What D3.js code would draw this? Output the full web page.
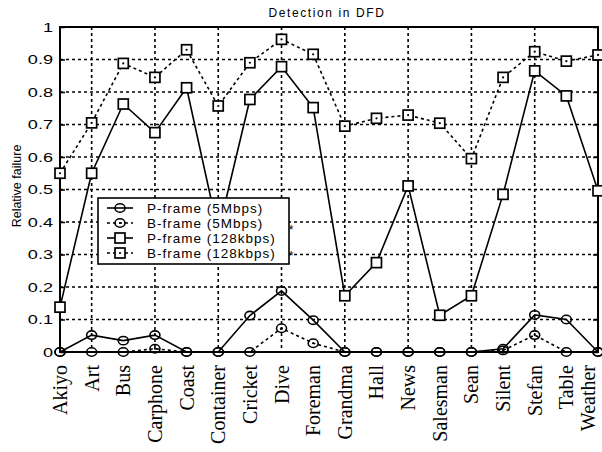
<!DOCTYPE html>
<html>
<head>
<meta charset="utf-8">
<script src="https://cdn.jsdelivr.net/npm/d3@7"></script>
<style>
  body { margin: 0; background: #fff; }
  svg { display: block; }
</style>
</head>
<body>
<div id="chart"></div>
<script>
// Detection in DFD - relative failure per test sequence

var sequences = ['Akiyo', 'Art', 'Bus', 'Carphone', 'Coast', 'Container', 'Cricket', 'Dive', 'Foreman',
  'Grandma', 'Hall', 'News', 'Salesman', 'Sean', 'Silent', 'Stefan', 'Table', 'Weather']

var pFrame5M = [0, 0.052, 0.035, 0.052, 0, 0, 0.112, 0.188, 0.098, 0, 0, 0, 0, 0, 0.01, 0.114, 0.1, 0]
var bFrame5M = [0, 0, 0, 0.01, 0, 0, 0, 0.073, 0.027, 0, 0, 0, 0, 0, 0.005, 0.052, 0, 0]
var pFrame128k = [0.138, 0.55, 0.763, 0.675, 0.813, 0.37, 0.777, 0.878, 0.752, 0.173, 0.275, 0.511, 0.113, 0.173, 0.485, 0.865, 0.788, 0.496]
var bFrame128k = [0.55, 0.705, 0.888, 0.845, 0.93, 0.757, 0.89, 0.962, 0.916, 0.695, 0.719, 0.729, 0.704, 0.595, 0.845, 0.924, 0.895, 0.914]

var yTicks = [0, 0.1, 0.2, 0.3, 0.4, 0.5, 0.6, 0.7, 0.8, 0.9, 1]
var yTickLabels = ['0', '0.1', '0.2', '0.3', '0.4', '0.5', '0.6', '0.7', '0.8', '0.9', '1']

var series = [
  { name: 'P-frame (5Mbps)', values: pFrame5M, dashed: false, marker: 'circle' },
  { name: 'B-frame (5Mbps)', values: bFrame5M, dashed: true, marker: 'circle' },
  { name: 'P-frame (128kbps)', values: pFrame128k, dashed: false, marker: 'square' },
  { name: 'B-frame (128kbps)', values: bFrame128k, dashed: true, marker: 'square' }
]

var width = 602
var height = 452
var plot = { left: 60, right: 598, top: 27, bottom: 352 }

var svg = d3.select('#chart').append('svg')
  .attr('width', width)
  .attr('height', height)

var x = d3.scaleLinear().domain([0, sequences.length - 1]).range([plot.left, plot.right])
var y = d3.scaleLinear().domain([0, 1]).range([plot.bottom, plot.top])

// grid
var grid = svg.append('g')
grid.selectAll('line.h')
  .data(yTicks.filter(function (d) { return d > 0 && d < 1 }))
  .enter().append('line')
  .attr('x1', plot.left).attr('x2', plot.right)
  .attr('y1', function (d) { return y(d) }).attr('y2', function (d) { return y(d) })
  .attr('stroke', '#000').attr('stroke-width', 1.6).attr('stroke-dasharray', '3,3')
grid.selectAll('line.v')
  .data(d3.range(1, sequences.length - 1, 2))
  .enter().append('line')
  .attr('x1', function (d) { return x(d) }).attr('x2', function (d) { return x(d) })
  .attr('y1', plot.top).attr('y2', plot.bottom)
  .attr('stroke', '#000').attr('stroke-width', 1.6).attr('stroke-dasharray', '3,3')

// frame
svg.append('rect')
  .attr('x', plot.left).attr('y', plot.top)
  .attr('width', plot.right - plot.left).attr('height', plot.bottom - plot.top)
  .attr('fill', 'none').attr('stroke', '#000').attr('stroke-width', 2)

// y axis ticks and labels
var yAxis = d3.axisLeft(y).tickValues(yTicks).tickSize(-5).tickFormat('')
svg.append('g').attr('transform', 'translate(' + plot.left + ',0)').call(yAxis)
  .call(function (g) { g.select('.domain').remove() })
  .selectAll('line').attr('stroke-width', 1.5)
svg.append('g').attr('transform', 'translate(' + plot.right + ',0)')
  .call(d3.axisRight(y).tickValues(yTicks).tickSize(-5).tickFormat(''))
  .call(function (g) { g.select('.domain').remove() })
  .selectAll('line').attr('stroke-width', 1.5)

svg.append('g').selectAll('text')
  .data(yTicks)
  .enter().append('text')
  .attr('transform', function (d) { return 'translate(53,' + y(d) + ') scale(1.45,1)' })
  .attr('dy', '0.36em')
  .attr('text-anchor', 'end')
  .style('font-family', 'Liberation Sans, Arial, sans-serif')
  .style('font-size', '12.5px')
  .text(function (d, i) { return yTickLabels[i] })

// x labels (last one nudged in so it stays inside the page)
svg.append('g').selectAll('text')
  .data(sequences)
  .enter().append('text')
  .attr('transform', function (d, i) { return 'translate(' + Math.min(x(i), 588) + ',365) rotate(-90)' })
  .attr('dy', '0.35em')
  .attr('text-anchor', 'end')
  .style('font-family', 'Liberation Serif, Times New Roman, serif')
  .style('font-size', '20px')
  .text(function (d) { return d })

// titles
svg.append('text')
  .attr('x', 327).attr('y', 17)
  .attr('text-anchor', 'middle')
  .style('font-family', 'Liberation Sans, Arial, sans-serif')
  .style('font-size', '12px')
  .style('letter-spacing', '1.6px')
  .text('Detection in DFD')

svg.append('text')
  .attr('transform', 'translate(21,186) rotate(-90)')
  .attr('text-anchor', 'middle')
  .style('font-family', 'Liberation Sans, Arial, sans-serif')
  .style('font-size', '12.5px')
  .text('Relative failure')

// markers
function drawMarker (g, type, cx, cy, dot) {
  if (type === 'circle') {
    g.append('ellipse').attr('cx', cx).attr('cy', cy).attr('rx', 5).attr('ry', 4.2)
      .attr('fill', 'none').attr('stroke', '#000').attr('stroke-width', 1.6)
  } else {
    g.append('rect').attr('x', cx - 5).attr('y', cy - 5).attr('width', 10).attr('height', 10)
      .attr('fill', '#fff').attr('stroke', '#000').attr('stroke-width', 1.7)
  }
  if (dot) {
    g.append('circle').attr('cx', cx).attr('cy', cy).attr('r', 1.1).attr('fill', '#000')
  }
}

var line = d3.line()
  .x(function (d, i) { return x(i) })
  .y(function (d) { return y(d) })

series.forEach(function (s) {
  var g = svg.append('g')
  g.append('path')
    .datum(s.values)
    .attr('d', line)
    .attr('fill', 'none')
    .attr('stroke', '#000')
    .attr('stroke-width', 1.6)
    .attr('stroke-dasharray', s.dashed ? '3,3' : null)
  s.values.forEach(function (v, i) {
    drawMarker(g, s.marker, x(i), y(v), s.dashed)
  })
})

// legend
var legend = svg.append('g')
legend.append('rect')
  .attr('x', 98).attr('y', 198).attr('width', 191).attr('height', 66)
  .attr('fill', '#fff').attr('stroke', '#000').attr('stroke-width', 1.6)
series.forEach(function (s, i) {
  var ly = 208 + i * 15
  var lg = legend.append('g')
  lg.append('line')
    .attr('x1', 107).attr('x2', 133).attr('y1', ly).attr('y2', ly)
    .attr('stroke', '#000').attr('stroke-width', 1.6)
    .attr('stroke-dasharray', s.dashed ? '3,3' : null)
  drawMarker(lg, s.marker, 120, ly, s.dashed)
  lg.append('text')
    .attr('x', 147).attr('y', ly)
    .attr('dy', '0.36em')
    .style('font-family', 'Liberation Sans, Arial, sans-serif')
    .style('font-size', '13.5px')
    .style('letter-spacing', '1px')
    .text(s.name)
})
legend.selectAll('text.star')
  .data([227, 253])
  .enter().append('text')
  .attr('x', 291).attr('y', function (d) { return d })
  .attr('dy', '0.6em')
  .attr('text-anchor', 'middle')
  .style('font-family', 'Liberation Sans, Arial, sans-serif')
  .style('font-size', '12px')
  .text('*')
</script>
</body>
</html>
